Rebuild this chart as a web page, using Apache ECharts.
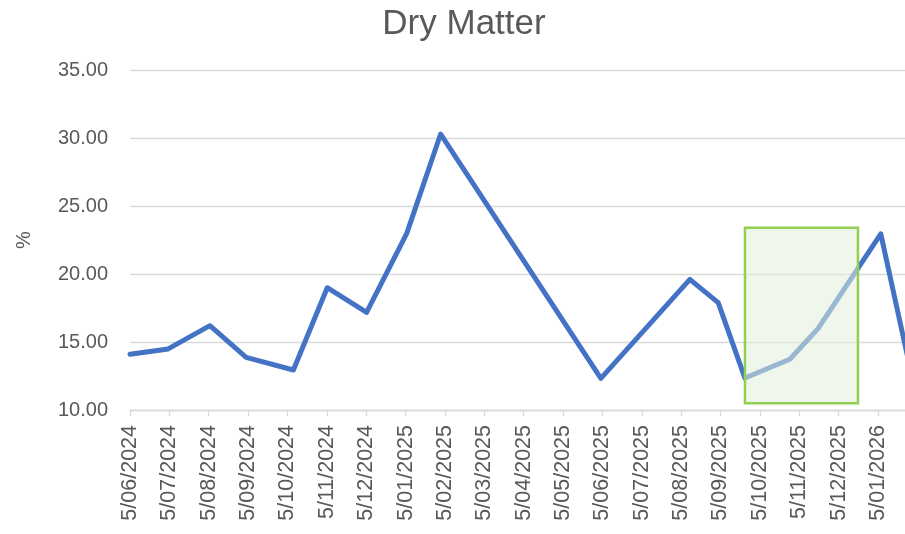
<!DOCTYPE html>
<html lang="en">
<head>
<meta charset="UTF-8">
<title>Dry Matter</title>
<script src="https://cdn.jsdelivr.net/npm/echarts@6/dist/echarts.min.js"></script>
<style>
  html, body { margin: 0; padding: 0; background: #fff; }
  #chart { width: 905px; height: 534px; }
</style>
</head>
<body>
<div id="chart"></div>
<script>
// month tick labels, one per month starting 5/06/2024
const monthLabels = [
  '5/06/2024', '5/07/2024', '5/08/2024', '5/09/2024', '5/10/2024',
  '5/11/2024', '5/12/2024', '5/01/2025', '5/02/2025', '5/03/2025',
  '5/04/2025', '5/05/2025', '5/06/2025', '5/07/2025', '5/08/2025',
  '5/09/2025', '5/10/2025', '5/11/2025', '5/12/2025', '5/01/2026'
]
// sample dates, in months after 5/06/2024
const sampleMonths = [0, 0.97, 2.03, 2.95, 4.15, 5.01, 6.01, 7.03, 7.89,
  11.96, 14.22, 14.94, 15.62, 16.76, 17.48, 19.07, 19.85]
// dry matter, %
const dryMatter = [14.10, 14.49, 16.20, 13.87, 12.94, 18.99, 17.18, 22.99, 30.29,
  12.33, 19.61, 17.89, 12.35, 13.73, 16.00, 22.95, 12.6]
// highlighted box (months / %)
const boxMonths = [15.62, 18.49]
const boxValues = [10.49, 23.40]

const visibleMax = 19.685
const tickValues = monthLabels.map((_, i) => i)
const grey = '#595959'
const font = 'Liberation Sans'

const option = {
  animation: false,
  backgroundColor: '#fff',
  title: {
    text: 'Dry Matter',
    left: 459,
    textAlign: 'center',
    top: 2,
    textStyle: { color: grey, fontSize: 35, fontWeight: 'normal', fontFamily: font }
  },
  grid: { left: 130, right: 0, top: 70, bottom: 124, containLabel: false },
  xAxis: {
    type: 'value',
    min: 0,
    max: visibleMax,
    interval: 1,
    axisLine: { lineStyle: { color: '#D9D9D9', width: 1.3 } },
    axisTick: { show: true, length: 6, customValues: tickValues, lineStyle: { color: '#D9D9D9', width: 1.3 } },
    splitLine: { show: false },
    axisLabel: {
      customValues: tickValues,
      rotate: 90,
      margin: 15,
      padding: [0, 0, 8, 0],
      color: grey,
      fontSize: 21.5,
      fontFamily: font,
      formatter: v => monthLabels[Math.round(v)] || ''
    }
  },
  yAxis: {
    type: 'value',
    min: 10,
    max: 35,
    interval: 5,
    name: '%',
    nameLocation: 'middle',
    nameGap: 96,
    nameTextStyle: { color: grey, fontSize: 20, fontFamily: font },
    axisLine: { show: false },
    axisTick: { show: false },
    splitLine: { lineStyle: { color: '#D9D9D9', width: 1.3 } },
    axisLabel: {
      margin: 22,
      color: grey,
      fontSize: 20,
      fontFamily: font,
      formatter: v => v.toFixed(2)
    }
  },
  series: [
    {
      type: 'line',
      name: 'Dry Matter',
      data: sampleMonths.map((m, i) => [m, dryMatter[i]]),
      showSymbol: false,
      symbol: 'none',
      clip: true,
      z: 2,
      lineStyle: { color: '#4472C4', width: 5, join: 'round', cap: 'round' }
    },
    {
      type: 'line',
      name: 'box',
      data: [],
      z: 10,
      markArea: {
        silent: true,
        z: 10,
        itemStyle: {
          color: 'rgba(226,239,218,0.55)',
          borderColor: '#92D050',
          borderWidth: 2.5
        },
        data: [[
          { coord: [boxMonths[0], boxValues[1]] },
          { coord: [boxMonths[1], boxValues[0]] }
        ]]
      }
    }
  ]
}

const chart = echarts.init(document.getElementById('chart'), null, { renderer: 'canvas' })
chart.setOption(option)
</script>
</body>
</html>
